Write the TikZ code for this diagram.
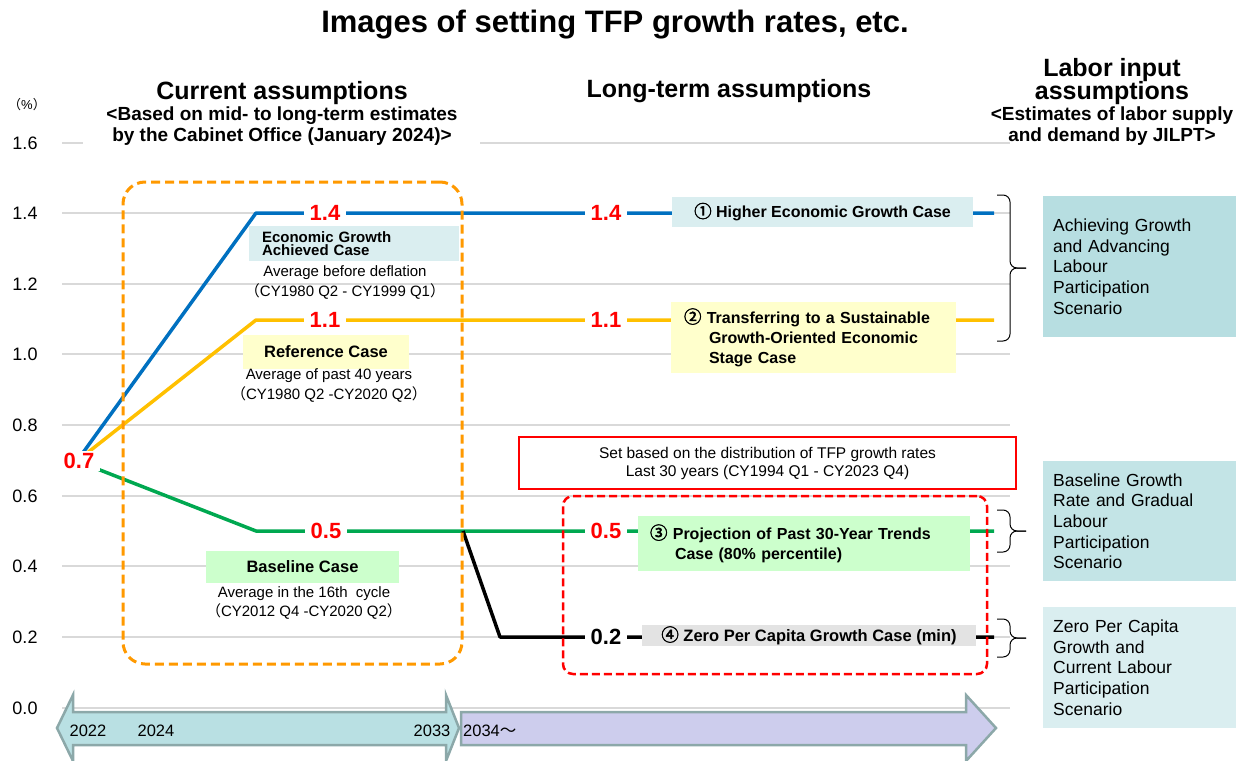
\documentclass[tikz,border=0pt]{standalone}
\usepackage{fontspec}
\setmainfont{Liberation Sans}
\newfontfamily\cjk[AutoFakeBold=2.5]{Noto Sans CJK JP}
\usetikzlibrary{calc}

\definecolor{gridgrey}{HTML}{D9D9D9}
\definecolor{lblue}{HTML}{0070C0}
\definecolor{lyellow}{HTML}{FFC000}
\definecolor{lgreen}{HTML}{00A850}
\definecolor{vred}{HTML}{FF0000}
\definecolor{dorange}{HTML}{FF9900}
\definecolor{tealbox}{HTML}{DAEEF0}
\definecolor{yelbox}{HTML}{FFFFCC}
\definecolor{grnbox}{HTML}{CCFFCC}
\definecolor{grybox}{HTML}{E3E3E3}
\definecolor{scenA}{HTML}{B7DEE1}
\definecolor{scenB}{HTML}{C3E4E6}
\definecolor{scenC}{HTML}{DAEEF0}
\definecolor{arrowA}{HTML}{B9E0E3}
\definecolor{arrowB}{HTML}{CDCDED}
\definecolor{arrowedge}{HTML}{8CA8A9}

\newcommand\fsz[2]{\fontsize{#1}{#2}\selectfont}
% circled digits and full-width punctuation
\newcommand\cn[1]{{\cjk #1}}
\newcommand\circnum[1]{{\cjk\fontsize{17.5}{19}\selectfont #1}}
% brace on the right side, pointing towards a scenario box
\newcommand\scenbrace[3]{%
  \draw[brc] (997,#1) -| (1010,#2) -- (1026,#2);
  \draw[brc] (997,#3) -| (1010,#2) -- (1026,#2);}

\begin{document}
\begin{tikzpicture}[x=1pt,y=-1pt,
  grid/.style={draw=gridgrey,line width=1.4},
  tfp/.style={line width=3.5,line join=round},
  val/.style={font=\bfseries\fsz{22}{24},text=vred,fill=white,inner xsep=6,inner ysep=2},
  axlab/.style={font=\fsz{18}{20}},
  hdr/.style={font=\bfseries\fsz{25}{25}},
  hdrsub/.style={font=\bfseries\fsz{19}{21}},
  casebox/.style={font=\bfseries\fsz{16.5}{19},inner sep=0},
  note/.style={font=\fsz{15}{19.5},align=center},
  scen/.style={font=\fsz{17.5}{20.6},align=left,anchor=north west,inner xsep=10,inner ysep=0,text width=173},
  yearlab/.style={font=\fsz{16.5}{18}},
  brc/.style={draw=black,line width=1,rounded corners=7},
  timearrow/.style={draw=arrowedge,line width=2.5,line join=miter},
]
\useasboundingbox (0,0) rectangle (1244,760);

% ---- title and column headings
\node[font=\bfseries\fsz{31}{31},anchor=base] (title) at (615,33) {Images of setting TFP growth rates, etc.};
\node[hdr,anchor=base] (curhd) at (282,99) {Current assumptions};
\node[hdrsub,anchor=base] (cursub1) at (282,120) {<Based on mid- to long-term estimates};
\node[hdrsub,anchor=base] (cursub2) at (282,141) {by the Cabinet Office (January 2024)>};
\node[hdr,anchor=base] (longhd) at (729,97) {Long-term assumptions};
\node[hdr,anchor=base] (labhd1) at (1112,76) {Labor input};
\node[hdr,anchor=base] (labhd2) at (1112,99) {assumptions};
\node[hdrsub,anchor=base] (labsub1) at (1112,120) {<Estimates of labor supply};
\node[hdrsub,anchor=base] (labsub2) at (1112,141) {and demand by JILPT>};

% ---- value axis and grid
\node[font=\fsz{13}{15}] (unit) at (27,105) {\cn{（}\%\cn{）}};
\draw[grid] (62,143) -- (83,143);
\draw[grid] (480,143) -- (1010,143);
\foreach \lab/\yy/\n in {1.6/143/a,1.4/213/b,1.2/284/c,1.0/354/d,0.8/425/e,0.6/496/f,0.4/566/g,0.2/637/h,0.0/708/i}{
  \node[axlab] (tick\n) at (25,\yy) {\lab};
}
\foreach \yy in {213,284,354,425,496,566,637,708}{
  \draw[grid] (62,\yy) -- (1010,\yy);
}

% ---- TFP paths
\coordinate (start) at (77,461);
\coordinate (hiA) at (256,213);  \coordinate (hiB) at (994,213);
\coordinate (refA) at (256,320); \coordinate (refB) at (994,320);
\coordinate (basA) at (256,531); \coordinate (basB) at (994,531);
\coordinate (zeroA) at (463,531); \coordinate (zeroB) at (500,637); \coordinate (zeroC) at (994,637);
\draw[tfp,lblue] (start) -- (hiA) -- (hiB);
\draw[tfp,lyellow] (start) -- (refA) -- (refB);
\draw[tfp,lgreen] (start) -- (basA) -- (basB);
\draw[tfp,black] (zeroA) -- (zeroB) -- (zeroC);

% ---- values on the paths
\node[val] (v07) at (79,461) {0.7};
\node[val] (v14a) at (325,213) {1.4};
\node[val] (v11a) at (325,320) {1.1};
\node[val] (v05a) at (326,531) {0.5};
\node[val] (v14b) at (606,213) {1.4};
\node[val] (v11b) at (606,320) {1.1};
\node[val] (v05b) at (606,531) {0.5};
\node[val,text=black] (v02b) at (606,637) {0.2};

% ---- current-assumption cases
\node[casebox,fill=tealbox,text width=184,inner xsep=13,minimum height=35,align=left,font=\bfseries\fsz{15}{13.5}] (egac) at (354,243.5) {Economic Growth\\Achieved Case};
\node[note] (egacn) at (345,282.5) {Average before deflation\\\cn{（}CY1980 Q2 - CY1999 Q1\cn{）}};
\node[casebox,fill=yelbox,minimum width=166,minimum height=34] (refc) at (326,352) {Reference Case};
\node[note] (refn) at (329,385.5) {Average of past 40 years\\\cn{（}CY1980 Q2 -CY2020 Q2\cn{）}};
\node[casebox,fill=grnbox,minimum width=193,minimum height=32] (basec) at (302.5,567) {Baseline Case};
\node[note] (basen) at (304,603) {Average in the 16th\ \ cycle\\\cn{（}CY2012 Q4 -CY2020 Q2\cn{）}};

\node[draw=dorange,line width=3,dash pattern=on 9 off 5,rounded corners=22,minimum width=339,minimum height=482,inner sep=0] (curwin) at (292.5,423) {};

% ---- long-term cases
\node[casebox,fill=tealbox,minimum width=301,minimum height=30,font=\bfseries\fsz{16}{19}] (case1) at (822.5,212) {\circnum{①} Higher Economic Growth Case};
\node[casebox,fill=yelbox,text width=259,inner xsep=13,minimum height=71,align=left,font=\bfseries\fsz{16}{20}] (case2) at (813.5,337.5) {\circnum{②} Transferring to a Sustainable\\\hspace*{25pt}Growth-Oriented Economic\\\hspace*{25pt}Stage Case};
\node[draw=vred,line width=1.2,minimum width=497,minimum height=52,font=\fsz{15.5}{18},align=center] (tfpnote) at (767.5,463) {Set based on the distribution of TFP growth rates\\Last 30 years (CY1994 Q1 - CY2023 Q4)};
\node[casebox,fill=grnbox,text width=308,inner xsep=12,minimum height=55,align=left,font=\bfseries\fsz{16}{20}] (case3) at (804,543.5) {\circnum{③} Projection of Past 30-Year Trends\\\hspace*{25pt}Case (80\% percentile)};
\node[casebox,fill=grybox,minimum width=334,minimum height=21,font=\bfseries\fsz{16.5}{19}] (case4) at (809,635.5) {\circnum{④} Zero Per Capita Growth Case (min)};
\node[draw=vred,line width=2.5,dash pattern=on 8 off 4,rounded corners=10,minimum width=424,minimum height=178,inner sep=0] (distwin) at (775,585) {};

% ---- braces and labour scenarios
\scenbrace{195}{268}{341}
\scenbrace{510}{531}{552}
\scenbrace{619}{638}{657}
\node[scen,fill=scenA,minimum height=141] (scenA) at (1043,196) {Achieving Growth\\and Advancing\\Labour\\Participation\\Scenario};
\node[scen,fill=scenB,minimum height=120] (scenB) at (1043,461) {Baseline Growth\\Rate and Gradual\\Labour\\Participation\\Scenario};
\node[scen,fill=scenC,minimum height=121] (scenC) at (1043,607) {Zero Per Capita\\Growth and\\Current Labour\\Participation\\Scenario};

% ---- time axis arrows
\draw[timearrow,fill=arrowA] (57,728) -- (73,695) -- (73,712) -- (446,712) -- (446,695) -- (459,728)
  -- (446,761) -- (446,745) -- (73,745) -- (73,761) -- cycle;
\draw[timearrow,fill=arrowB] (461,712) -- (966,712) -- (966,695) -- (996,728) -- (966,761) -- (966,745) -- (461,745) -- cycle;
\node[yearlab] (y22) at (88,731) {2022};
\node[yearlab] (y24) at (156,731) {2024};
\node[yearlab] (y33) at (432,731) {2033};
\node[yearlab,anchor=west,inner xsep=0] (y34) at (463,731) {2034\cn{～}};
\end{tikzpicture}
\end{document}
